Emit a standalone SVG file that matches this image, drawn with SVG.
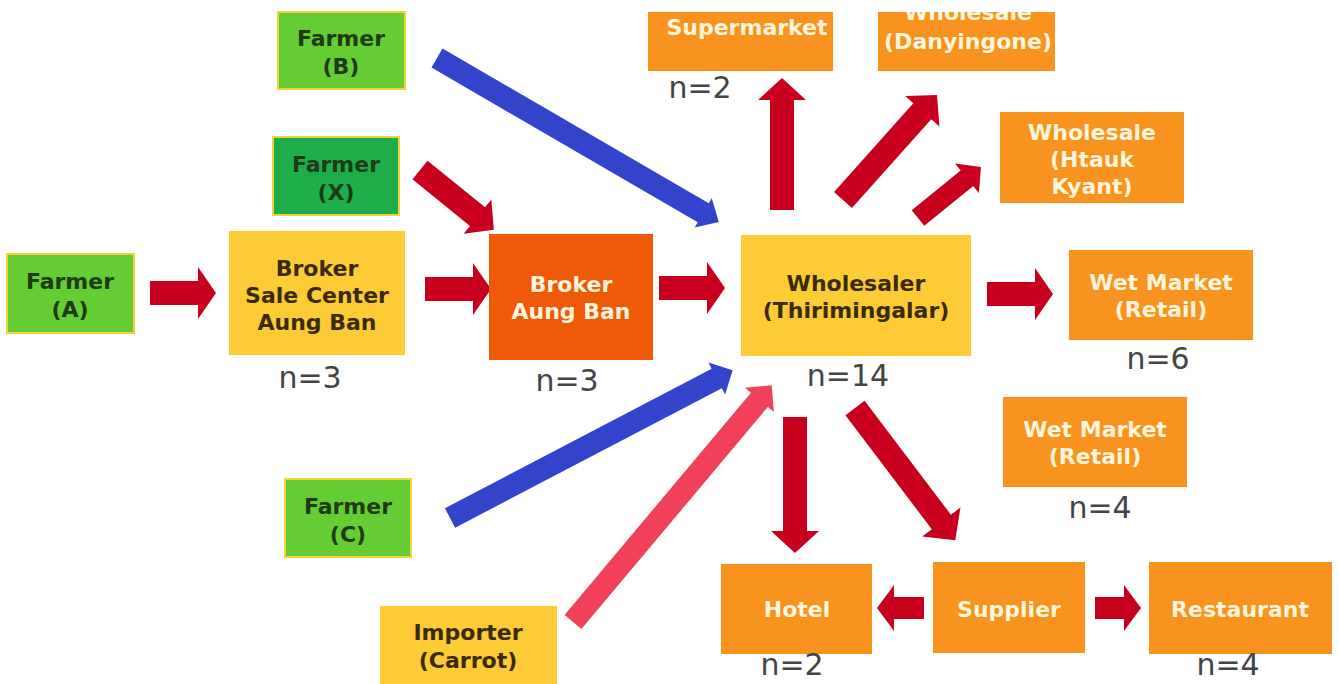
<svg xmlns="http://www.w3.org/2000/svg" width="1339" height="684" viewBox="0 0 1339 684">
<style>
.t{font-family:"DejaVu Sans",Verdana,sans-serif;font-weight:bold;font-size:22px;text-anchor:middle}
.g{fill:#66CC33;stroke:#F2D33A;stroke-width:2}
.dg{fill:#1DAE4B;stroke:#F2D33A;stroke-width:2}
.y{fill:#FCCB35}
.o{fill:#F7931E}
.ro{fill:#EF5A08}
.tg{fill:#1F3A14}
.ty{fill:#3A2A08}
.tw{fill:#FFF4DC}
.n{font-family:"DejaVu Sans",Verdana,sans-serif;font-size:30px;fill:#444;text-anchor:middle}
.red{fill:#C8001E}
.blue{fill:#3344CC}
.pink{fill:#F0405A}
</style>
<defs>
<clipPath id="top"><rect x="0" y="12" width="1339" height="672"/></clipPath>
</defs>
<rect width="1339" height="684" fill="#fff"/>

<g id="connectors">
<path class="red" transform="translate(150,293)" d="M0,-12 H48 V-26 L66,0 L48,26 V12 H0 Z"/>
<path class="red" transform="translate(425,289)" d="M0,-12 H48 V-26 L66,0 L48,26 V12 H0 Z"/>
<path class="red" transform="translate(659,288)" d="M0,-12 H48 V-26 L66,0 L48,26 V12 H0 Z"/>
<path class="red" transform="translate(987,294)" d="M0,-12 H48 V-26 L66,0 L48,26 V12 H0 Z"/>
<path class="red" transform="translate(924,608) rotate(180)" d="M0,-11 H30 V-23 L47,0 L30,23 V11 H0 Z"/>
<path class="red" transform="translate(1095,608)" d="M0,-11 H29 V-23 L46,0 L29,23 V11 H0 Z"/>
<path class="red" transform="translate(782,210) rotate(-90)" d="M0,-12 H110 V-24 L132,0 L110,24 V12 H0 Z"/>
<path class="red" transform="translate(795,417) rotate(90)" d="M0,-12 H114 V-24 L136,0 L114,24 V12 H0 Z"/>
<path class="red" transform="translate(843,200) rotate(-48.2)" d="M0,-12 H119 V-23 L141,0 L119,23 V12 H0 Z"/>
<path class="red" transform="translate(918,218) rotate(-39)" d="M0,-10 H63 V-19 L81,0 L63,19 V10 H0 Z"/>
<path class="red" transform="translate(855,408) rotate(52.85)" d="M0,-12 H143 V-24 L166,0 L143,24 V12 H0 Z"/>
<path class="red" transform="translate(420,170) rotate(39)" d="M0,-12 H74 V-22 L95,0 L74,22 V12 H0 Z"/>
<path class="blue" transform="translate(437,58) rotate(30.18)" d="M0,-11 H308 V-17 L326,0 L308,17 V11 H0 Z"/>
<path class="blue" transform="translate(450,518) rotate(-27.6)" d="M0,-11 H301 V-18 L319,0 L301,18 V11 H0 Z"/>
<path class="pink" transform="translate(573,622) rotate(-50)" d="M0,-11 H290 V-19 L309,0 L290,19 V11 H0 Z"/>
</g>

<g id="farmerB"><rect class="g" x="278" y="12" width="127" height="77"/>
<text class="t tg" x="341" y="46">Farmer</text><text class="t tg" x="341" y="74">(B)</text></g>
<g id="farmerX"><rect class="dg" x="273" y="137" width="126" height="78"/>
<text class="t tg" x="336" y="172">Farmer</text><text class="t tg" x="336" y="200">(X)</text></g>
<g id="farmerA"><rect class="g" x="7" y="254" width="127" height="79"/>
<text class="t tg" x="70" y="289">Farmer</text><text class="t tg" x="70" y="317">(A)</text></g>
<g id="farmerC"><rect class="g" x="285" y="479" width="126" height="78"/>
<text class="t tg" x="348" y="514">Farmer</text><text class="t tg" x="348" y="542">(C)</text></g>
<g id="importer"><rect class="y" x="380" y="606" width="177" height="78"/>
<text class="t ty" x="468" y="640">Importer</text><text class="t ty" x="468" y="668">(Carrot)</text></g>

<g id="brokerSC"><rect class="y" x="229" y="231" width="176" height="124"/>
<text class="t ty" x="317" y="276">Broker</text><text class="t ty" x="317" y="303">Sale Center</text><text class="t ty" x="317" y="330">Aung Ban</text>
<text class="n" x="310" y="388">n=3</text></g>
<g id="brokerAB"><rect class="ro" x="489" y="234" width="164" height="126"/>
<text class="t tw" x="571" y="292">Broker</text><text class="t tw" x="571" y="319">Aung Ban</text>
<text class="n" x="567" y="391">n=3</text></g>
<g id="wholesaler"><rect class="y" x="741" y="235" width="230" height="121"/>
<text class="t ty" x="856" y="291">Wholesaler</text><text class="t ty" x="856" y="318">(Thirimingalar)</text>
<text class="n" x="848" y="386">n=14</text></g>

<g id="supermarket" clip-path="url(#top)"><rect class="o" x="648" y="12" width="185" height="59"/>
<text class="t tw" x="747" y="35">Supermarket</text>
<text class="n" x="700" y="98">n=2</text></g>
<g id="danyingone" clip-path="url(#top)"><rect class="o" x="878" y="12" width="177" height="59"/>
<text class="t tw" x="968" y="20">Wholesale</text><text class="t tw" x="968" y="49">(Danyingone)</text></g>
<g id="htaukKyant"><rect class="o" x="1000" y="112" width="184" height="91"/>
<text class="t tw" x="1092" y="140">Wholesale</text><text class="t tw" x="1092" y="167">(Htauk</text><text class="t tw" x="1092" y="194">Kyant)</text></g>
<g id="wetMarket1"><rect class="o" x="1069" y="250" width="184" height="90"/>
<text class="t tw" x="1161" y="290">Wet Market</text><text class="t tw" x="1161" y="317">(Retail)</text>
<text class="n" x="1158" y="369">n=6</text></g>
<g id="wetMarket2"><rect class="o" x="1003" y="397" width="184" height="90"/>
<text class="t tw" x="1095" y="437">Wet Market</text><text class="t tw" x="1095" y="464">(Retail)</text>
<text class="n" x="1100" y="518">n=4</text></g>
<g id="hotel"><rect class="o" x="721" y="564" width="151" height="90"/>
<text class="t tw" x="797" y="617">Hotel</text>
<text class="n" x="792" y="675">n=2</text></g>
<g id="supplier"><rect class="o" x="933" y="562" width="152" height="91"/>
<text class="t tw" x="1009" y="617">Supplier</text></g>
<g id="restaurant"><rect class="o" x="1149" y="562" width="183" height="92"/>
<text class="t tw" x="1240" y="617">Restaurant</text>
<text class="n" x="1228" y="675">n=4</text></g>
</svg>
